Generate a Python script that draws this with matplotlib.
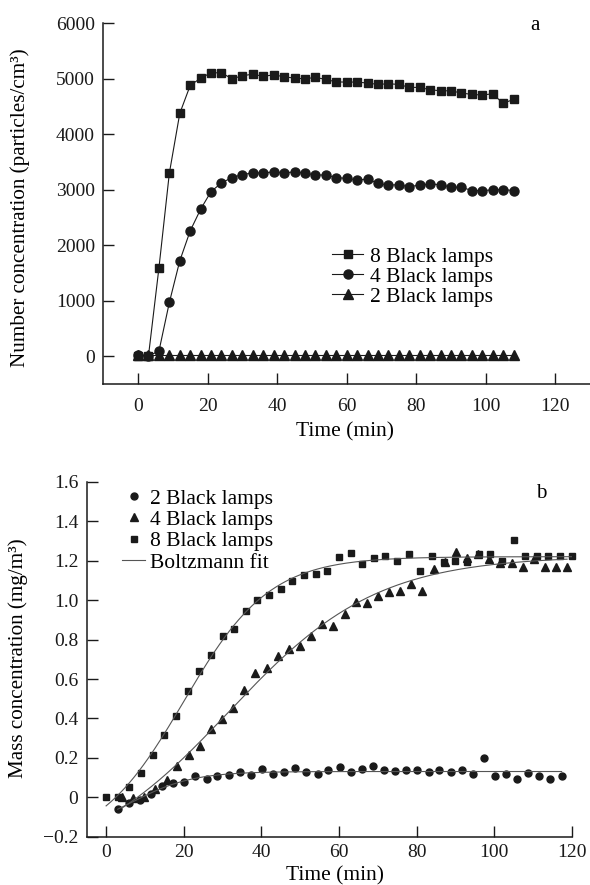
import numpy as np
import matplotlib
matplotlib.use("Agg")
import matplotlib.pyplot as plt
from matplotlib.lines import Line2D

plt.rcParams['font.family'] = ['Liberation Serif', 'DejaVu Serif']
plt.rcParams['font.size'] = 14

# ---------------- Panel a data ----------------
time_a = [0, 3, 6, 9, 12, 15, 18, 21, 24, 27, 30, 33, 36, 39, 42, 45, 48, 51, 54,
          57, 60, 63, 66, 69, 72, 75, 78, 81, 84, 87, 90, 93, 96, 99, 102, 105, 108]
num_8 = [10, 10, 1590, 3300, 4377, 4880, 5012, 5108, 5108, 5000, 5054, 5084, 5043,
         5072, 5036, 5012, 5000, 5025, 4989, 4943, 4941, 4941, 4923, 4899, 4910,
         4899, 4845, 4845, 4802, 4784, 4784, 4743, 4719, 4707, 4730, 4557, 4629]
num_4 = [25, 10, 90, 970, 1720, 2260, 2650, 2968, 3124, 3220, 3274, 3304, 3304,
         3322, 3304, 3322, 3300, 3268, 3265, 3220, 3205, 3178, 3190, 3118, 3082,
         3094, 3052, 3088, 3100, 3094, 3046, 3046, 2986, 2986, 2998, 3004, 2986]
num_2 = [20, 20, 20, 20, 20, 20, 20, 20, 20, 20, 20, 20, 20, 20, 20, 20, 20, 20, 20,
         20, 20, 20, 20, 20, 20, 20, 20, 20, 20, 20, 20, 20, 20, 20, 20, 20, 20]
labels_a = ['8 Black lamps', '4 Black lamps', '2 Black lamps']

# ---------------- Panel b data ----------------
time_b2 = [3.0, 5.9, 8.7, 11.6, 14.4, 17.3, 20.2, 23.0, 25.9, 28.7, 31.6, 34.5, 37.3,
           40.2, 43.0, 45.9, 48.8, 51.6, 54.5, 57.3, 60.2, 63.1, 65.9, 68.8, 71.6,
           74.5, 77.4, 80.2, 83.1, 85.9, 88.8, 91.7, 94.5, 97.4, 100.2, 103.1, 106.0,
           108.8, 111.7, 114.5, 117.4]
mass_2 = [-0.060, -0.028, -0.014, 0.019, 0.055, 0.073, 0.078, 0.110, 0.091, 0.109,
          0.111, 0.128, 0.112, 0.143, 0.119, 0.130, 0.147, 0.128, 0.120, 0.137,
          0.152, 0.129, 0.142, 0.157, 0.141, 0.134, 0.139, 0.141, 0.130, 0.136,
          0.127, 0.136, 0.119, 0.200, 0.110, 0.119, 0.095, 0.124, 0.110, 0.095, 0.107]
time_b4 = [4.1, 7.0, 9.8, 12.7, 15.6, 18.4, 21.3, 24.2, 27.0, 29.9, 32.8, 35.6, 38.5,
           41.4, 44.3, 47.1, 50.0, 52.9, 55.7, 58.6, 61.5, 64.3, 67.2, 70.1, 72.9,
           75.8, 78.7, 81.5, 84.4, 87.3, 90.2, 93.0, 95.9, 98.8, 101.6, 104.5, 107.4,
           110.2, 113.1, 116.0, 118.8]
mass_4 = [0.000, -0.003, 0.000, 0.042, 0.090, 0.160, 0.215, 0.260, 0.346, 0.395,
          0.455, 0.546, 0.630, 0.656, 0.717, 0.753, 0.767, 0.820, 0.879, 0.867,
          0.928, 0.991, 0.986, 1.020, 1.041, 1.049, 1.080, 1.046, 1.156, 1.193,
          1.244, 1.215, 1.236, 1.208, 1.190, 1.190, 1.171, 1.208, 1.168, 1.168, 1.168]
time_b8 = [0, 3, 6, 9, 12, 15, 18, 21, 24, 27, 30, 33, 36, 39, 42, 45, 48, 51, 54, 57,
           60, 63, 66, 69, 72, 75, 78, 81, 84, 87, 90, 93, 96, 99, 102, 105, 108,
           111, 114, 117, 120]
mass_8 = [0.000, 0.000, 0.053, 0.125, 0.214, 0.317, 0.413, 0.540, 0.641, 0.722,
          0.821, 0.854, 0.946, 1.003, 1.029, 1.056, 1.096, 1.127, 1.132, 1.149,
          1.220, 1.239, 1.182, 1.212, 1.227, 1.198, 1.236, 1.146, 1.223, 1.193,
          1.198, 1.196, 1.236, 1.236, 1.198, 1.307, 1.223, 1.222, 1.222, 1.222, 1.222]
labels_b = ['2 Black lamps', '4 Black lamps', '8 Black lamps', 'Boltzmann fit']


def boltzmann(p, x):
    a1, a2, x0, dx = p
    return a2 + (a1 - a2) / (1.0 + np.exp((x - x0) / dx))


def fit_boltzmann(x, y, p0):
    x = np.asarray(x, float)
    y = np.asarray(y, float)
    p = np.array(p0, float)
    lam = 1e-3
    cost = np.sum((y - boltzmann(p, x)) ** 2)
    for _ in range(400):
        r = y - boltzmann(p, x)
        J = np.zeros((len(x), 4))
        for k in range(4):
            h = 1e-6 * max(1.0, abs(p[k]))
            pp = p.copy()
            pp[k] += h
            J[:, k] = (boltzmann(pp, x) - boltzmann(p, x)) / h
        A = J.T @ J
        g = J.T @ r
        try:
            dp = np.linalg.solve(A + lam * np.diag(np.diag(A) + 1e-12), g)
        except np.linalg.LinAlgError:
            break
        pn = p + dp
        cn = np.sum((y - boltzmann(pn, x)) ** 2)
        if cn < cost:
            p, cost = pn, cn
            lam *= 0.3
        else:
            lam *= 10
    return p


INK = '#1a1a1a'
fig = plt.figure(figsize=(5.9, 8.85), dpi=100)
W, H = 590.0, 885.0

# ---------------- Panel a ----------------
a_l, a_r, a_t, a_b = 103.3, 590.0, 23.3, 384.0
ax1 = fig.add_axes([a_l / W, 1 - a_b / H, (a_r - a_l) / W, (a_b - a_t) / H])
lw = 0.8
ax1.plot(time_a, num_8, '-', color=INK, lw=lw, marker='s', ms=6,
         label=labels_a[0], clip_on=False)
ax1.plot(time_a, num_4, '-', color=INK, lw=lw, marker='o', ms=6.5,
         label=labels_a[1], clip_on=False)
ax1.plot(time_a, num_2, '-', color=INK, lw=lw, marker='^', ms=6.5,
         label=labels_a[2], clip_on=False)
ax1.set_xlim(-10, 130)
ax1.set_ylim(-500, 6000)
ax1.set_xticks([0, 20, 40, 60, 80, 100, 120])
ax1.set_yticks([0, 1000, 2000, 3000, 4000, 5000, 6000])
ax1.set_xlabel('Time (min)', fontsize=15.5, va='center')
ax1.xaxis.set_label_coords((345 - a_l) / (a_r - a_l), (a_b - 432) / (a_b - a_t))
ax1.set_ylabel('Number concentration (particles/cm³)', fontsize=15.2, va='center')
ax1.yaxis.set_label_coords((20 - a_l) / (a_r - a_l), (a_b - 208) / (a_b - a_t))
fig.text(535 / W, 1 - 25 / H, 'a', fontsize=15, ha='center', va='center')
ax1.legend(loc='upper left', bbox_to_anchor=((332.5 - a_l) / (a_r - a_l),
                                             (a_b - 246.5) / (a_b - a_t)),
           frameon=False, fontsize=15.5, handlelength=1.4, handletextpad=0.33,
           labelspacing=0.0, borderpad=0, borderaxespad=0)

# ---------------- Panel b ----------------
b_l, b_r, b_t, b_b = 86.7, 571.7, 482.0, 836.7
ax2 = fig.add_axes([b_l / W, 1 - b_b / H, (b_r - b_l) / W, (b_b - b_t) / H])
ax2.plot(time_b2, mass_2, 'o', color=INK, ms=5, clip_on=False)
ax2.plot(time_b4, mass_4, '^', color=INK, ms=6, clip_on=False)
ax2.plot(time_b8, mass_8, 's', color=INK, ms=4.8, clip_on=False)

for tx, my, p0 in [(time_b2, mass_2, (-0.1, 0.13, 10, 5)),
                   (time_b4, mass_4, (-0.2, 1.22, 45, 15)),
                   (time_b8, mass_8, (-0.2, 1.22, 25, 10))]:
    p = fit_boltzmann(tx, my, p0)
    xs = np.linspace(min(tx), max(tx), 300)
    ax2.plot(xs, boltzmann(p, np.array(xs)), '-', color='#555555', lw=0.8)

ax2.set_xlim(-5, 120)
ax2.set_ylim(-0.2, 1.6)
ax2.set_xticks([0, 20, 40, 60, 80, 100, 120])
ax2.set_yticks([-0.2, 0, 0.2, 0.4, 0.6, 0.8, 1.0, 1.2, 1.4, 1.6])
ax2.set_yticklabels(['\u22120.2', '0', '0.2', '0.4', '0.6', '0.8', '1.0', '1.2',
                     '1.4', '1.6'])
ax2.set_xlabel('Time (min)', fontsize=15.5, va='center')
ax2.xaxis.set_label_coords((335 - b_l) / (b_r - b_l), (b_b - 876) / (b_b - b_t))
ax2.set_ylabel('Mass concentration (mg/m³)', fontsize=15.2, va='center')
ax2.yaxis.set_label_coords((18 - b_l) / (b_r - b_l), (b_b - 658) / (b_b - b_t))
fig.text(541 / W, 1 - 494 / H, 'b', fontsize=15, ha='center', va='center')

handles_b = [Line2D([], [], ls='none', marker='o', ms=5, color=INK),
             Line2D([], [], ls='none', marker='^', ms=6, color=INK),
             Line2D([], [], ls='none', marker='s', ms=4.8, color=INK),
             Line2D([], [], ls='-', lw=0.8, color='#555555')]
ax2.legend(handles_b, labels_b, loc='upper left',
           bbox_to_anchor=((122 - b_l) / (b_r - b_l), (b_b - 488.5) / (b_b - b_t)),
           frameon=False, fontsize=15.5, handlelength=1.07, handletextpad=0.23,
           labelspacing=0.06, borderpad=0, borderaxespad=0)

for ax in (ax1, ax2):
    ax.spines['top'].set_visible(False)
    ax.spines['right'].set_visible(False)
    for s in ('left', 'bottom'):
        ax.spines[s].set_linewidth(1.1)
        ax.spines[s].set_color(INK)
    ax.tick_params(direction='in', length=8, width=1.0, labelsize=14,
                   colors=INK, pad=6)
ax1.tick_params(axis='x', pad=10)
ax2.tick_params(axis='x', pad=5)

fig.savefig('out.png', dpi=100)
